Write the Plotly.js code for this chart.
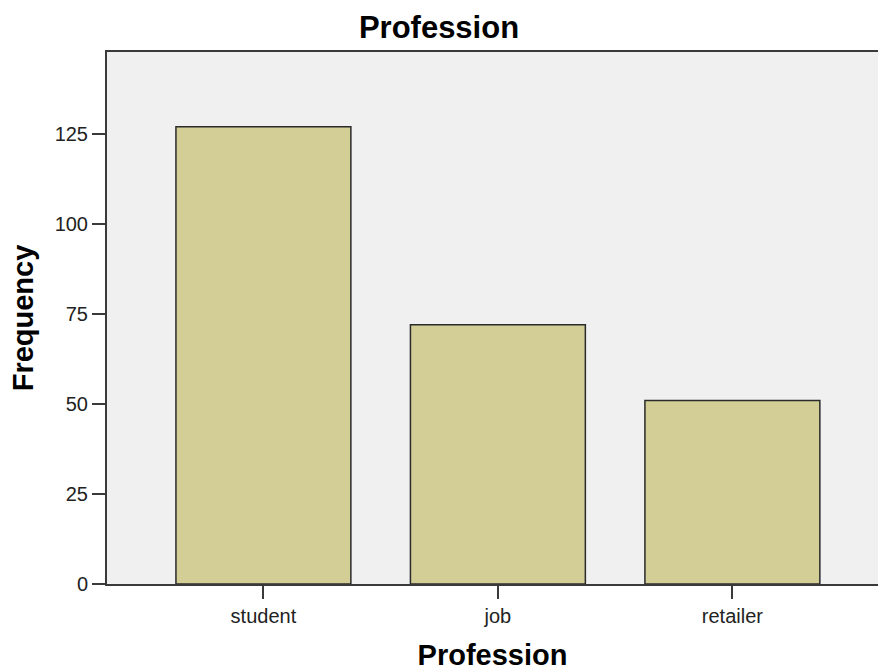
<!DOCTYPE html>
<html>
<head>
<meta charset="utf-8">
<script src="https://cdn.plot.ly/plotly-3.0.1.min.js"></script>
<style>html,body{margin:0;padding:0;background:#fff;}#chart{width:878px;height:671px;}</style>
</head>
<body>
<div id="chart"></div>
<script>
const categories = ["student", "job", "retailer"];
const frequencies = [127, 72, 51];
const yTickValues = [0, 25, 50, 75, 100, 125];

const trace = {
  type: "bar",
  x: categories,
  y: frequencies,
  marker: { color: "#D2CE96", line: { color: "#2b2b2b", width: 1.5 } },
  hoverinfo: "x+y"
};

const layout = {
  width: 878,
  height: 671,
  margin: { l: 107, r: 0, t: 52, b: 87 },
  paper_bgcolor: "#ffffff",
  plot_bgcolor: "#F0F0F0",
  bargap: 0.254,
  showlegend: false,
  font: { family: "Liberation Sans, Arial, sans-serif", color: "#111" },
  title: {
    text: "<b>Profession</b>",
    font: { size: 31, color: "#000" },
    x: 0.5, xref: "container", xanchor: "center",
    y: 0.96, yref: "container", yanchor: "middle"
  },
  xaxis: {
    type: "category",
    range: [-0.667, 2.621],
    showline: true, mirror: true, linecolor: "#3a3a3a", linewidth: 2,
    ticks: "outside", ticklen: 13, tickwidth: 2, tickcolor: "#3a3a3a",
    tickfont: { size: 20, color: "#222" },
    showgrid: false, zeroline: false,
    title: { text: "<b>Profession</b>", font: { size: 29, color: "#000" }, standoff: 22 }
  },
  yaxis: {
    range: [0, 147.8],
    tickvals: yTickValues,
    ticktext: yTickValues.map(String),
    showline: true, linecolor: "#3a3a3a", linewidth: 2,
    ticks: "outside", ticklen: 13, tickwidth: 2, tickcolor: "#3a3a3a",
    tickfont: { size: 20, color: "#222" },
    showgrid: false, zeroline: false,
    title: { text: "<b>Frequency</b>", font: { size: 29, color: "#000" }, standoff: 12 }
  }
};

Plotly.newPlot("chart", [trace], layout, { displayModeBar: false, staticPlot: true });
</script>
</body>
</html>
